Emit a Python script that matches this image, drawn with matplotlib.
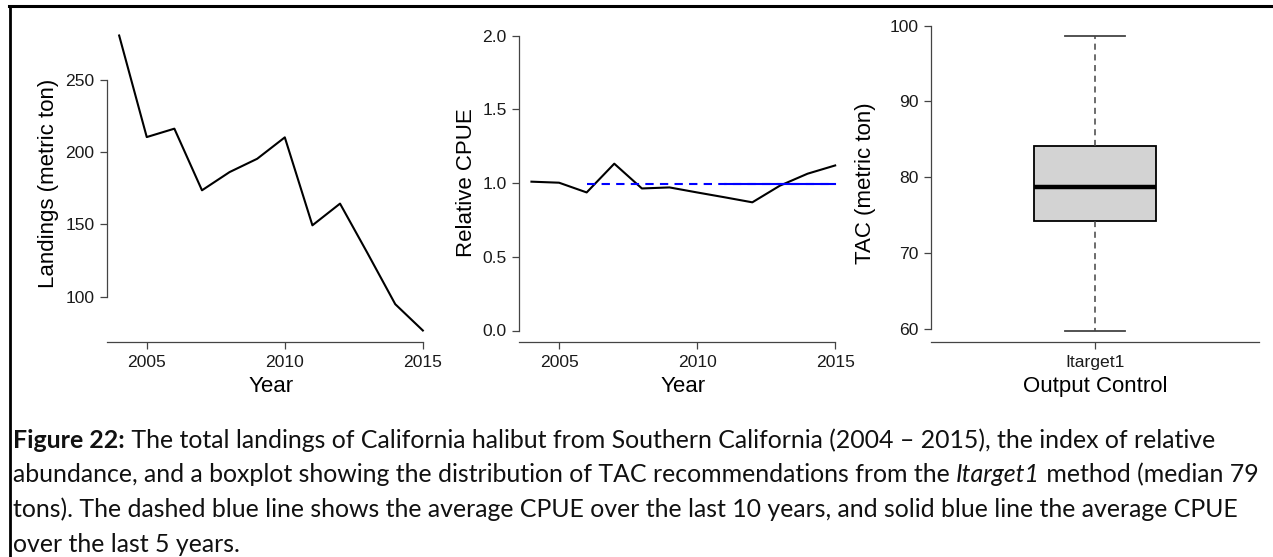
import matplotlib
matplotlib.use("Agg")
import matplotlib.pyplot as plt
from matplotlib.lines import Line2D

# data
years = list(range(2004, 2016))
landings = [280.6, 210.4, 216.2, 173.6, 186.2, 195.4, 210.2, 149.4, 164.4, 130.0, 94.9, 76.7]
cpue = [1.009, 1.002, 0.936, 1.131, 0.963, 0.970, 0.936, 0.903, 0.869, 0.982, 1.063, 1.119]
avg10_years = [2006, 2015]
avg10 = 0.99
avg5_years = [2011, 2015]
avg5 = 0.99
tac_label = "Itarget1"
tac_stats = dict(whislo=59.8, q1=74.2, med=78.7, q3=84.1, whishi=98.7)

caption_lines = [
    [("Figure 22:", "bold", "normal"),
     (" The total landings of California halibut from Southern California (2004 \u2013 2015), the index of relative",
      "normal", "normal")],
    [("abundance, and a boxplot showing the distribution of TAC recommendations from the ", "normal", "normal"),
     ("Itarget1", "normal", "italic"),
     (" method (median 79", "normal", "normal")],
    [("tons). The dashed blue line shows the average CPUE over the last 10 years, and solid blue line the average CPUE",
      "normal", "normal")],
    [("over the last 5 years.", "normal", "normal")],
]

W, H = 1273, 557
plt.rcParams['font.family'] = ['Liberation Sans', 'DejaVu Sans']
fig = plt.figure(figsize=(W / 100, H / 100), dpi=100)


def rlim(lo, hi):
    pad = (hi - lo) * 0.04
    return lo - pad, hi + pad


def style(ax):
    for s in ['top', 'right']:
        ax.spines[s].set_visible(False)
    for s in ['left', 'bottom']:
        ax.spines[s].set_color('#444444')
        ax.spines[s].set_linewidth(0.9)
    ax.tick_params(axis='both', length=5, width=0.9, color='#444444', labelsize=12.6,
                   labelcolor='#1a1a1a')
    ax.tick_params(axis='x', pad=4.5)
    ax.tick_params(axis='y', pad=4)
    ax.set_facecolor('none')


ax_w = 328 / W
ax_h = (342.3 - 23.7) / H
bottom = 1 - 342.3 / H
lefts = [107 / W, 519.3 / W, 931 / W]
axes = [fig.add_axes([l, bottom, ax_w, ax_h]) for l in lefts]

# panel 1: landings
ax = axes[0]
ax.plot(years, landings, color='black', lw=1.5)
ax.set_xlim(*rlim(2004, 2015))
ax.set_ylim(*rlim(min(landings), max(landings)))
ax.set_xticks([2005, 2010, 2015])
ax.set_yticks([100, 150, 200, 250])
ax.spines['left'].set_bounds(100, 250)
ax.spines['bottom'].set_bounds(ax.get_xlim()[0], 2015)
style(ax)
ax.set_ylabel("Landings (metric ton)", fontsize=16, va='center')
ax.yaxis.set_label_coords(-59 / 328, 0.5)
ax.set_xlabel("Year", fontsize=16, va='center')
ax.xaxis.set_label_coords(0.5, -44 / 318.6)

# panel 2: relative CPUE
ax = axes[1]
ax.plot(years, cpue, color='black', lw=1.5)
ax.plot(avg10_years, [avg10, avg10], color='#0000FF', lw=1.5, ls=(0, (4, 3)))
ax.plot(avg5_years, [avg5, avg5], color='#0000FF', lw=1.5)
ax.set_xlim(*rlim(2004, 2015))
ax.set_ylim(*rlim(0, 2))
ax.set_xticks([2005, 2010, 2015])
ax.set_yticks([0.0, 0.5, 1.0, 1.5, 2.0])
ax.set_yticklabels(["0.0", "0.5", "1.0", "1.5", "2.0"])
ax.spines['left'].set_bounds(0, 2)
ax.spines['bottom'].set_bounds(ax.get_xlim()[0], 2015)
style(ax)
ax.set_ylabel("Relative CPUE", fontsize=16, va='center')
ax.yaxis.set_label_coords(-52.6 / 328, 0.5)
ax.set_xlabel("Year", fontsize=16, va='center')
ax.xaxis.set_label_coords(0.5, -44 / 318.6)

# panel 3: TAC boxplot
ax = axes[2]
stats = dict(tac_stats, label=tac_label)
ax.bxp([stats], positions=[1], widths=0.37, capwidths=[0.185], showfliers=False,
       patch_artist=True,
       boxprops=dict(facecolor='#D3D3D3', edgecolor='black', lw=1.3),
       medianprops=dict(color='black', lw=3.2, solid_capstyle='butt'),
       whiskerprops=dict(color='#444444', lw=1.1, ls=(0, (4, 3))),
       capprops=dict(color='#444444', lw=1.3))
ax.set_xlim(0.5, 1.5)
ax.set_ylim(*rlim(tac_stats['whislo'], tac_stats['whishi']))
ax.set_yticks([60, 70, 80, 90, 100])
ax.spines['left'].set_bounds(60, 100)
style(ax)
ax.set_ylabel("TAC (metric ton)", fontsize=16, va='center')
ax.yaxis.set_label_coords(-66 / 328, 0.5)
ax.set_xlabel("Output Control", fontsize=16, va='center')
ax.xaxis.set_label_coords(0.5, -44 / 318.6)

# outer frame (left and top edges)
fig.add_artist(Line2D([9.5 / W, 9.5 / W], [0, 1 - 6 / H], color='black', lw=2, transform=fig.transFigure))
fig.add_artist(Line2D([8.5 / W, 1], [1 - 6 / H, 1 - 6 / H], color='black', lw=2.2, transform=fig.transFigure))

# caption with mixed bold / italic pieces, sized so line 2 spans like the reference
renderer = fig.canvas.get_renderer()
cap_font = ['Lato', 'DejaVu Sans']
baselines = [448, 482.5, 517, 551.5]
x0 = 13


def draw_caption(size):
    drawn = []
    ends = []
    for parts, yb in zip(caption_lines, baselines):
        x = x0
        for txt, weight, style_ in parts:
            t = fig.text(x / W, 1 - yb / H, txt, fontsize=size, family=cap_font,
                         fontweight=weight, fontstyle=style_, va='baseline', ha='left', color='#111111')
            x = t.get_window_extent(renderer).x1
            drawn.append(t)
        ends.append(x)
    return drawn, ends


trial, ends = draw_caption(15.5)
for t in trial:
    t.remove()
size = 15.5 * (1262 - x0) / (ends[1] - x0)
draw_caption(size)

fig.savefig("out.png", dpi=100)
